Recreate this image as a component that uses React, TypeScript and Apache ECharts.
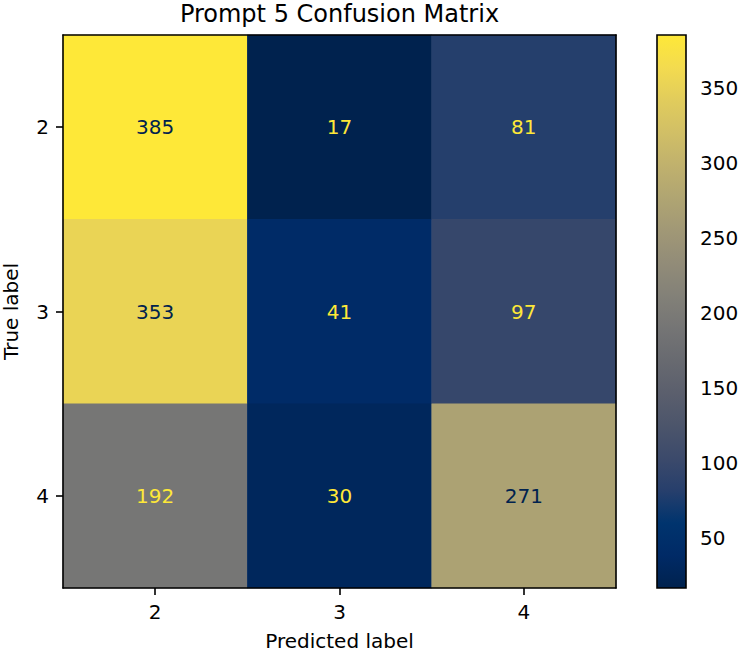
import { useEffect, useRef } from "react";
import * as echarts from "echarts";

const predictedLabels = ["2", "3", "4"];
const trueLabels = ["2", "3", "4"];
const rowTrue2 = [385, 17, 81];
const rowTrue3 = [353, 41, 97];
const rowTrue4 = [192, 30, 271];
const colorbarTicks = [50, 100, 150, 200, 250, 300, 350];
const cividis = [
  "#00224e", "#002a66", "#00346e", "#273f6c", "#3c4a6b", "#4c556b",
  "#5b5f6d", "#686a70", "#757575", "#838178", "#928c78", "#a19876",
  "#b0a572", "#c0b16d", "#d1bf66", "#e1cc5c", "#f3db4f", "#fee838",
];

const FONT = "DejaVu Sans";

export default function App() {
  const ref = useRef<HTMLDivElement>(null);
  useEffect(() => {
    const chart = echarts.init(ref.current!, null, { renderer: "svg" });
    const rows = [rowTrue2, rowTrue3, rowTrue4];
    const all = rows.flat();
    const vmin = Math.min(...all);
    const vmax = Math.max(...all);
    const thresh = (vmin + vmax) / 2;
    const data: any[] = [];
    rows.forEach((row, yi) =>
      row.forEach((v, xi) =>
        data.push({
          value: [xi, yi, v],
          label: { color: v < thresh ? cividis[cividis.length - 1] : cividis[0] },
        })
      )
    );
    const stops = cividis.map((c, i) => ({ offset: i / (cividis.length - 1), color: c }));
    const axisLine = { show: true, lineStyle: { color: "#000", width: 1.6 } };
    const tick = { show: true, length: 7, lineStyle: { color: "#000", width: 1.6 } };
    const lbl = { color: "#000", fontSize: 20, fontFamily: FONT, margin: 14 };

    chart.setOption({
      animation: false,
      backgroundColor: "#fff",
      title: {
        text: "Prompt 5 Confusion Matrix",
        left: 339.5,
        textAlign: "center",
        top: 2,
        padding: 0,
        textStyle: { fontFamily: FONT, fontSize: 24, fontWeight: "normal", color: "#000" },
      },
      grid: [
        { left: 63, top: 35, width: 553, height: 553, containLabel: false, outerBoundsMode: "none" },
        { left: 657, top: 35, width: 29, height: 553, containLabel: false, outerBoundsMode: "none" },
      ],
      visualMap: {
        show: false,
        type: "continuous",
        min: vmin,
        max: vmax,
        dimension: 2,
        seriesIndex: 0,
        inRange: { color: cividis },
      },
      xAxis: [
        {
          type: "category",
          gridIndex: 0,
          data: predictedLabels,
          position: "bottom",
          z: 10,
          axisLine,
          axisTick: { ...tick, alignWithLabel: true },
          axisLabel: lbl,
          splitLine: { show: false },
          name: "Predicted label",
          nameLocation: "middle",
          nameGap: 43,
          nameTextStyle: { fontFamily: FONT, fontSize: 20, color: "#000" },
        },
        {
          type: "category",
          gridIndex: 0,
          data: predictedLabels,
          position: "top",
          z: 10,
          axisLine,
          axisTick: { show: false },
          axisLabel: { show: false },
          splitLine: { show: false },
        },
        { type: "value", gridIndex: 1, min: 0, max: 1, show: false },
      ],
      yAxis: [
        {
          type: "category",
          gridIndex: 0,
          data: trueLabels,
          inverse: true,
          position: "left",
          z: 10,
          axisLine,
          axisTick: { ...tick, alignWithLabel: true },
          axisLabel: lbl,
          splitLine: { show: false },
          name: "True label",
          nameLocation: "middle",
          nameGap: 42,
          nameTextStyle: { fontFamily: FONT, fontSize: 20, color: "#000" },
        },
        {
          type: "category",
          gridIndex: 0,
          data: trueLabels,
          inverse: true,
          position: "right",
          z: 10,
          axisLine,
          axisTick: { show: false },
          axisLabel: { show: false },
          splitLine: { show: false },
        },
        {
          type: "value",
          gridIndex: 1,
          min: vmin,
          max: vmax,
          position: "right",
          axisLine: { show: false },
          axisTick: { ...tick, customValues: colorbarTicks },
          axisLabel: { ...lbl, customValues: colorbarTicks },
          splitLine: { show: false },
        },
      ],
      series: [
        {
          type: "heatmap",
          xAxisIndex: 0,
          yAxisIndex: 0,
          data,
          label: { show: true, fontSize: 20, fontFamily: FONT },
          emphasis: { disabled: true },
          itemStyle: { borderWidth: 0 },
        },
        {
          type: "custom",
          xAxisIndex: 2,
          yAxisIndex: 2,
          data: [[0, vmin, 1, vmax]],
          renderItem: (_params: any, api: any) => {
            const p0 = api.coord([api.value(0), api.value(1)]);
            const p1 = api.coord([api.value(2), api.value(3)]);
            return {
              type: "rect",
              shape: { x: p0[0], y: p1[1], width: p1[0] - p0[0], height: p0[1] - p1[1] },
              style: {
                fill: new echarts.graphic.LinearGradient(0, 1, 0, 0, stops),
                stroke: "#000",
                lineWidth: 1.6,
              },
            };
          },
        },
      ],
    });
    return () => chart.dispose();
  }, []);
  return (
    <div
      ref={ref}
      style={{ position: "fixed", left: 0, top: 0, width: 744, height: 655 }}
    />
  );
}
